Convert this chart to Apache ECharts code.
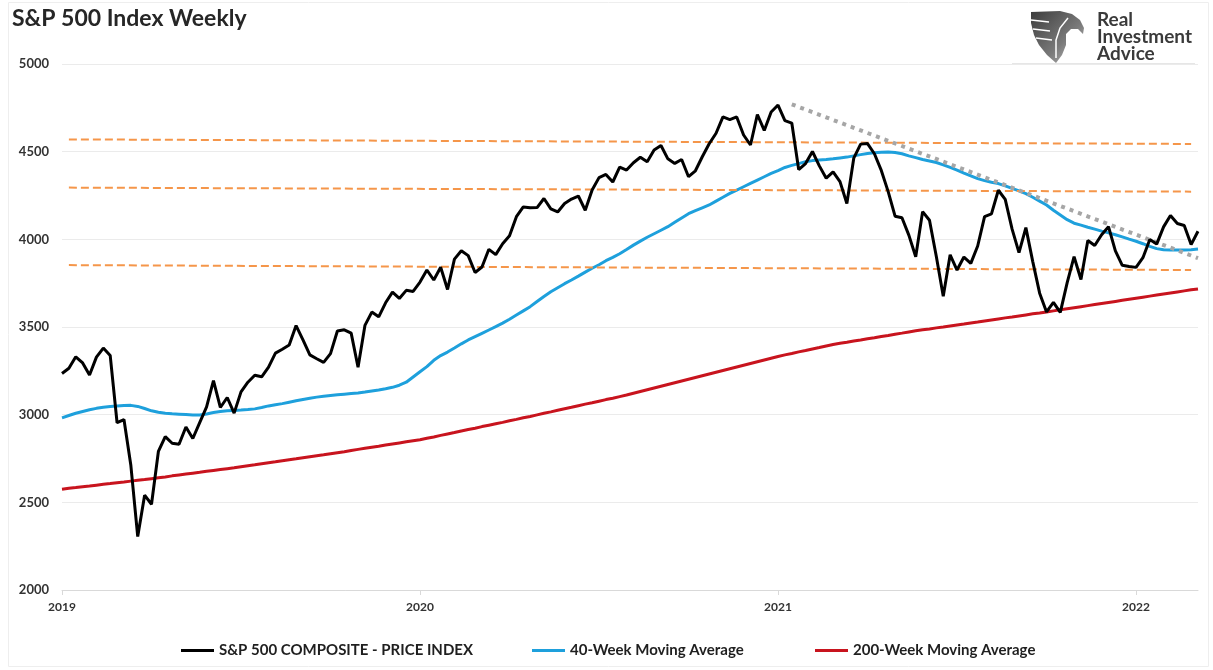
<!DOCTYPE html>
<html>
<head>
<meta charset="utf-8">
<title>S&amp;P 500 Index Weekly</title>
<script src="https://cdn.jsdelivr.net/npm/echarts@6/dist/echarts.min.js"></script>
<style>
    html, body { margin: 0; padding: 0; background: #fff; }
    #chart { width: 1213px; height: 670px; }
</style>
</head>
<body>
<div id="chart"></div>
<script>
// weekly closes, first friday of 2020 -> first friday of march 2023
var spx = [
    3235, 3265, 3330, 3295, 3226, 3328, 3380, 3338, 2954, 2972, 2711, 2305, 2541, 2489, 2790, 2875, 2837, 2831,
    2930, 2864, 2955, 3044, 3194, 3041, 3098, 3009, 3130, 3185, 3225, 3216, 3271, 3351, 3373, 3397, 3508, 3427,
    3341, 3319, 3298, 3348, 3477, 3484, 3465, 3270, 3509, 3585, 3558, 3638, 3699, 3663, 3709, 3703, 3756,
    3825, 3768, 3841, 3714, 3887, 3935, 3907, 3811, 3842, 3943, 3913, 3975, 4020, 4129, 4185, 4180, 4181, 4233,
    4174, 4156, 4204, 4230, 4247, 4166, 4281, 4352, 4370, 4327, 4412, 4395, 4437, 4468, 4442, 4509, 4535, 4459,
    4433, 4455, 4357, 4391, 4471, 4545, 4605, 4698, 4683, 4698, 4595, 4538, 4712, 4621, 4726, 4766,
    4677, 4663, 4398, 4432, 4501, 4419, 4349, 4385, 4329, 4204, 4463, 4543, 4546, 4488, 4393, 4272, 4132, 4123,
    4024, 3901, 4158, 4109, 3901, 3675, 3912, 3825, 3899, 3863, 3962, 4130, 4145, 4280, 4228, 4058, 3924, 4067,
    3873, 3693, 3586, 3640, 3583, 3753, 3901, 3771, 3993, 3965, 4026, 4072, 3934, 3852, 3845, 3840,
    3895, 3999, 3973, 4071, 4136, 4090, 4079, 3970, 4046
];

var ma40 = [
    2982, 2995, 3008, 3018, 3028, 3036, 3042, 3046, 3049, 3052, 3053, 3047, 3035, 3022, 3014, 3008, 3005, 3003,
    3001, 2998, 2998, 3004, 3012, 3018, 3022, 3024, 3026, 3029, 3033, 3041, 3050, 3057, 3063, 3071, 3079, 3087,
    3094, 3100, 3105, 3109, 3113, 3117, 3121, 3124, 3129, 3135, 3141, 3148, 3156, 3168, 3185, 3215, 3245,
    3274, 3310, 3337, 3357, 3380, 3404, 3426, 3445, 3464, 3483, 3502, 3522, 3544, 3568, 3592, 3616, 3645, 3674,
    3701, 3724, 3747, 3768, 3790, 3813, 3835, 3855, 3878, 3897, 3918, 3942, 3967, 3990, 4012, 4032, 4052, 4072,
    4097, 4122, 4146, 4164, 4180, 4196, 4218, 4240, 4262, 4281, 4300, 4319, 4338, 4357, 4376, 4392,
    4410, 4422, 4432, 4443, 4449, 4452, 4455, 4459, 4464, 4469, 4476, 4483, 4490, 4494, 4497, 4498, 4495, 4488,
    4476, 4466, 4455, 4447, 4438, 4425, 4410, 4395, 4378, 4362, 4346, 4335, 4326, 4318, 4305, 4291, 4276, 4261,
    4240, 4218, 4196, 4166, 4139, 4112, 4092, 4081, 4069, 4058, 4047, 4037, 4026, 4014, 4001, 3989,
    3975, 3960, 3947, 3941, 3939, 3939, 3939, 3941, 3945
];

var ma200 = [
    2575, 2580, 2584, 2589, 2593, 2598, 2603, 2607, 2612, 2616, 2621, 2626, 2630, 2635,
    2640, 2645, 2651, 2656, 2661, 2666, 2671, 2677, 2682, 2687, 2692, 2697, 2703,
    2709, 2714, 2720, 2726, 2731, 2737, 2743, 2748, 2754, 2760, 2766, 2771, 2777,
    2783, 2789, 2796, 2802, 2808, 2814, 2820, 2827, 2833, 2839, 2845, 2851, 2857,
    2865, 2873, 2882, 2890, 2898, 2907, 2915, 2923, 2932, 2940, 2948, 2956, 2965, 2973,
    2982, 2990, 2999, 3008, 3016, 3025, 3034, 3042, 3051, 3060, 3068, 3077, 3086, 3094, 3103, 3112,
    3122, 3132, 3142, 3152, 3162, 3172, 3182, 3192, 3202, 3212, 3222, 3232, 3242, 3252, 3262, 3272,
    3282, 3292, 3302, 3312, 3322, 3332,
    3341, 3349, 3358, 3366, 3375, 3383, 3392, 3400,
    3407, 3413, 3420, 3426, 3433, 3439, 3446, 3452, 3459, 3465, 3472, 3478,
    3484, 3489, 3495, 3500, 3506, 3512, 3517, 3523, 3528, 3534, 3540,
    3546, 3552, 3557, 3563, 3569, 3575, 3580, 3586,
    3592, 3598, 3604, 3610, 3616, 3622, 3628, 3634, 3640,
    3646, 3652, 3658, 3664, 3670, 3676, 3682, 3688, 3694, 3700, 3706, 3712, 3717
];

var tickIndex = [0, 52, 104, 156];
var tickLabels = ['2019', '2020', '2021', '2022'];

// orange dashed levels [value at start, value at end]
var levels = [[4570, 4544], [4295, 4272], [3853, 3825]];
var levelSpan = [1, 164];
// grey dotted down trend [week index, value]
var trend = [[106, 4770], [165, 3893]];

var weeks = [];
var start = new Date(2020, 0, 3);
for (var i = 0; i < spx.length; i++) {
    var d = new Date(start.getTime() + i * 7 * 86400000 + 43200000);
    weeks.push(d.getFullYear() + '-' + (d.getMonth() + 1) + '-' + d.getDate());
}

function isTick(idx) {
    return tickIndex.indexOf(idx) > -1;
}

var names = ['S&P 500 COMPOSITE - PRICE INDEX', '40-Week Moving Average', '200-Week Moving Average'];
var legendStyle = {
    fontSize: 15,
    fontWeight: 'bold',
    color: '#1f1f1f',
    fontFamily: 'Lato'
};

var myChart = echarts.init(document.getElementById('chart'));

var option = {
    animation: false,
    backgroundColor: '#ffffff',
    textStyle: { fontFamily: 'Lato' },
    title: {
        text: 'S&P 500 Index Weekly',
        left: 7,
        top: 2,
        textStyle: { fontSize: 23, fontWeight: 'bold', color: '#262626', fontFamily: 'Lato' }
    },
    grid: { left: 62, right: 15, top: 64, bottom: 80 },
    legend: [
        { data: [names[0]], left: 176, top: 638, icon: 'rect', itemWidth: 33, itemHeight: 3, selectedMode: false, textStyle: legendStyle },
        { data: [names[1]], left: 527, top: 638, icon: 'rect', itemWidth: 33, itemHeight: 3, selectedMode: false, textStyle: legendStyle },
        { data: [names[2]], left: 810, top: 638, icon: 'rect', itemWidth: 33, itemHeight: 3, selectedMode: false, textStyle: legendStyle }
    ],
    xAxis: {
        type: 'category',
        boundaryGap: false,
        data: weeks,
        axisLine: { lineStyle: { color: '#d9d9d9', width: 1 } },
        axisTick: {
            show: true,
            interval: isTick,
            length: 5,
            lineStyle: { color: '#d9d9d9' }
        },
        axisLabel: {
            interval: isTick,
            formatter: function (v, idx) { return tickLabels[tickIndex.indexOf(idx)]; },
            fontSize: 12,
            fontWeight: 'bold',
            color: '#333333',
            margin: 11
        },
        splitLine: { show: false }
    },
    yAxis: {
        type: 'value',
        min: 2000,
        max: 5000,
        interval: 500,
        axisLine: { show: false },
        axisTick: { show: false },
        axisLabel: {
            fontSize: 13,
            fontWeight: 'bold',
            color: '#333333',
            margin: 13,
            formatter: function (v) { return String(v); }
        },
        splitLine: { lineStyle: { color: '#ebebeb', width: 1 } }
    },
    series: [
        {
            name: 'levels',
            type: 'line',
            data: [],
            silent: true,
            z: 1,
            markLine: {
                silent: true,
                symbol: ['none', 'none'],
                label: { show: false },
                lineStyle: { color: '#f5964a', width: 2, type: [8, 4] },
                data: levels.map(function (l) {
                    return [{ coord: [levelSpan[0], l[0]] }, { coord: [levelSpan[1], l[1]] }];
                })
            }
        },
        {
            name: names[2],
            type: 'line',
            data: ma200,
            showSymbol: false,
            z: 2,
            itemStyle: { color: '#c8141e' },
            lineStyle: { color: '#c8141e', width: 3 }
        },
        {
            name: names[1],
            type: 'line',
            data: ma40,
            showSymbol: false,
            z: 3,
            itemStyle: { color: '#1ea0dc' },
            lineStyle: { color: '#1ea0dc', width: 3 }
        },
        {
            name: 'trend',
            type: 'line',
            data: [],
            silent: true,
            z: 4,
            markLine: {
                silent: true,
                symbol: ['none', 'none'],
                label: { show: false },
                lineStyle: { color: '#a6a6a6', width: 4, type: [4, 5] },
                data: [[{ coord: trend[0] }, { coord: trend[1] }]]
            }
        },
        {
            name: names[0],
            type: 'line',
            data: spx,
            showSymbol: false,
            z: 5,
            itemStyle: { color: '#000000' },
            lineStyle: { color: '#000000', width: 3 }
        }
    ],
    graphic: [
        {
            type: 'rect',
            silent: true,
            shape: { x: 8.5, y: 2.5, width: 1200, height: 664 },
            style: { fill: 'none', stroke: '#eeeeee', lineWidth: 1 }
        },
        {
            type: 'line',
            silent: true,
            shape: { x1: 1012, y1: 63.5, x2: 1195, y2: 63.5 },
            style: { stroke: '#e6e6e6', lineWidth: 1 }
        },
        {
            type: 'polygon',
            silent: true,
            shape: {
                points: [[1031, 12], [1060, 11], [1072, 14], [1080, 20], [1084, 28], [1083, 34], [1078, 29],
                         [1071, 29], [1066, 34], [1066, 45], [1062, 55], [1056, 63], [1047, 55], [1039, 45],
                         [1034, 35], [1031, 23]]
            },
            style: {
                fill: new echarts.graphic.LinearGradient(0, 0, 1, 1, [
                    { offset: 0, color: '#3c3c3c' },
                    { offset: 0.6, color: '#7a7a7a' },
                    { offset: 1, color: '#c4c4c4' }
                ])
            }
        },
        {
            type: 'polyline',
            silent: true,
            shape: { points: [[1031, 20], [1049, 22]] },
            style: { stroke: '#ffffff', lineWidth: 1.5 }
        },
        {
            type: 'polyline',
            silent: true,
            shape: { points: [[1033, 29], [1050, 31]] },
            style: { stroke: '#ffffff', lineWidth: 1.5 }
        },
        {
            type: 'polyline',
            silent: true,
            shape: { points: [[1036, 38], [1052, 40]] },
            style: { stroke: '#ffffff', lineWidth: 1.5 }
        },
        {
            type: 'polyline',
            silent: true,
            shape: { points: [[1068, 18], [1060, 28], [1056, 40], [1056, 58]] },
            style: { stroke: '#ffffff', lineWidth: 1.5, fill: 'none' }
        },
        {
            type: 'text',
            silent: true,
            left: 1097,
            top: 10,
            style: {
                text: 'Real\nInvestment\nAdvice',
                font: 'bold 19px Lato',
                lineHeight: 17,
                fill: '#3a3a3a'
            }
        }
    ]
};

myChart.setOption(option);
</script>
</body>
</html>
